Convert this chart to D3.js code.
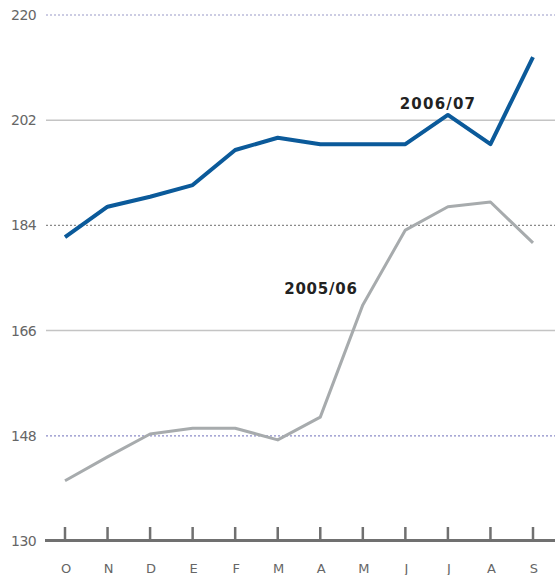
<!DOCTYPE html>
<html><head><meta charset="utf-8">
<script src="https://cdn.jsdelivr.net/npm/d3@7/dist/d3.min.js"></script>
<style>body{margin:0;background:#fff}svg{display:block}</style>
</head><body>
<script>
const months = ["O","N","D","E","F","M","A","M","J","J","A","S"];
const series0607 = [182.0,187.2,188.9,190.9,196.9,199.0,197.9,197.9,197.9,202.9,197.9,212.8];
const series0506 = [140.3,144.4,148.3,149.3,149.3,147.3,151.2,170.4,183.2,187.2,188.0,181.0];
const yTicks = [130,148,166,184,202,220];
const yTickLabels = ["130","148","166","184","202","220"];
const seriesNames = ["2006/07","2005/06"];

const W=555,H=575;
const svg=d3.select("body").append("svg").attr("width",W).attr("height",H);
const x=d3.scalePoint().domain(d3.range(months.length)).range([65,533]);
const y=d3.scaleLinear().domain([130,220]).range([541,15]);

const gridStyles={
  220:{c:"#9a9ac8",w:1.2,d:"2,2"},
  202:{c:"#c4c4c4",w:1.5,d:null},
  184:{c:"#8a8a8a",w:1.2,d:"2,2"},
  166:{c:"#c4c4c4",w:1.5,d:null},
  148:{c:"#8c8cc8",w:1.2,d:"2,2"}
};
yTicks.forEach(t=>{
  if(t!==130){
    const s=gridStyles[t];
    svg.append("line").attr("x1",46).attr("x2",W).attr("y1",y(t)).attr("y2",y(t))
      .attr("stroke",s.c).attr("stroke-width",s.w).attr("stroke-dasharray",s.d);
  }
});
svg.append("g").selectAll("text").data(yTicks).join("text")
  .attr("x",36).attr("y",d=>y(d)+5).attr("text-anchor","end")
  .attr("font-family","DejaVu Sans, sans-serif").attr("font-size",14).attr("fill","#666")
  .attr("letter-spacing",-0.6)
  .text((d,i)=>yTickLabels[i]);

const bx=svg.append("g");
bx.append("line").attr("x1",45).attr("x2",W).attr("y1",y(130)-0.5).attr("y2",y(130)-0.5)
  .attr("stroke","#707070").attr("stroke-width",3);
bx.selectAll("line.tk").data(months.map((m,i)=>i)).join("line").attr("class","tk")
  .attr("x1",d=>x(d)).attr("x2",d=>x(d)).attr("y1",y(130)).attr("y2",y(130)-14)
  .attr("stroke","#707070").attr("stroke-width",2.5);
bx.selectAll("text").data(months).join("text")
  .attr("x",(d,i)=>x(i)+1).attr("y",573).attr("text-anchor","middle")
  .attr("font-family","DejaVu Sans, sans-serif").attr("font-size",13).attr("fill","#666")
  .text(d=>d);

const line=d3.line().x((d,i)=>x(i)).y(d=>y(d));
svg.append("path").datum(series0506).attr("d",line).attr("fill","none")
  .attr("stroke","#a7abad").attr("stroke-width",3).attr("stroke-linejoin","round");
svg.append("path").datum(series0607).attr("d",line).attr("fill","none")
  .attr("stroke","#0b5a9a").attr("stroke-width",4).attr("stroke-linejoin","round");

svg.append("text").attr("x",438).attr("y",109).attr("text-anchor","middle")
  .attr("font-family","DejaVu Sans, sans-serif").attr("font-weight","bold").attr("font-size",15)
  .attr("fill","#222").attr("letter-spacing",1.2).text(seriesNames[0]);
svg.append("text").attr("x",321).attr("y",294).attr("text-anchor","middle")
  .attr("font-family","DejaVu Sans, sans-serif").attr("font-weight","bold").attr("font-size",15)
  .attr("fill","#222").attr("letter-spacing",0.8).text(seriesNames[1]);
</script>
</body></html>
